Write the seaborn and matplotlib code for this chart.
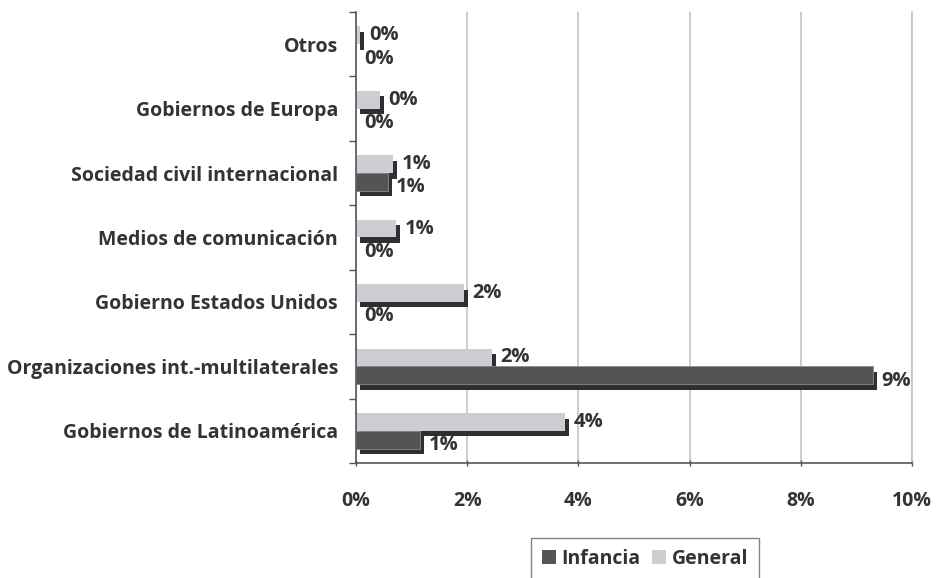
import numpy as np, pandas as pd
import matplotlib
matplotlib.use("Agg")
import matplotlib.pyplot as plt
import matplotlib.patheffects as pe
from matplotlib.patches import Patch
from matplotlib.ticker import FuncFormatter, FixedLocator
import seaborn as sns

# data (percent), categories top to bottom
categories = ["Otros", "Gobiernos de Europa", "Sociedad civil internacional",
              "Medios de comunicación", "Gobierno Estados Unidos",
              "Organizaciones int.-multilaterales", "Gobiernos de Latinoamérica"]
general = [0.08, 0.43, 0.67, 0.72, 1.94, 2.45, 3.76]
infancia = [0.0, 0.0, 0.57, 0.0, 0.0, 9.3, 1.15]
series = ["General", "Infancia"]
xticks = [0, 2, 4, 6, 8, 10]

LIGHT, DARK, SHADOW, TXT, GRID = "#cdced3", "#555355", "#2f2f2f", "#333333", "#c4c4c4"
FS = 14

sns.set_theme(style="white")
plt.rcParams["font.family"] = ["Open Sans", "DejaVu Sans"]
plt.rcParams["font.weight"] = "bold"

df = pd.DataFrame({"cat": categories * 2,
                   "val": general + infancia,
                   "serie": ["General"] * len(general) + ["Infancia"] * len(infancia)})

fig = plt.figure(figsize=(9.4, 5.78), dpi=100)
ax = fig.add_axes([356/940, 1-463/578, (912-356)/940, (463-12)/578])

sns.barplot(data=df, y="cat", x="val", hue="serie", hue_order=series,
            order=categories, palette={"General": LIGHT, "Infancia": DARK},
            orient="h", width=0.55, legend=False, ax=ax, saturation=1)

# dark drop shadow under each bar (offset right/down), labels at bar ends
shadow = [pe.withSimplePatchShadow(offset=(2.9, -4.0), shadow_rgbFace=SHADOW, alpha=1.0)]
for cont, s in zip(ax.containers, series):
    for bar in cont:
        bar.set_linewidth(0)
        if bar.get_width() > 0:
            bar.set_path_effects(shadow)
            if s == "Infancia":
                bar.set_edgecolor("#8c8c8c"); bar.set_linewidth(0.6)
        yc = bar.get_y() + bar.get_height() / 2
        dy = 0 if s == "General" else -4
        ax.annotate(f"{bar.get_width():.0f}%", (bar.get_width(), yc),
                    xytext=(6, dy), textcoords="offset points",
                    ha="left", va="center", fontsize=14.5, fontweight="bold", color=TXT)

ax.set_xlim(0, 10)
ax.set_ylim(len(categories) - 0.5, -0.5)
ax.set_xticks(xticks)
ax.xaxis.set_major_formatter(FuncFormatter(lambda v, p: f"{v:.0f}%"))
ax.set_xlabel(""); ax.set_ylabel("")
ax.grid(axis="x", color=GRID, lw=1.2)
ax.grid(axis="y", visible=False)
ax.set_axisbelow(True)

ax.yaxis.set_minor_locator(FixedLocator(np.arange(-0.5, len(categories), 1)))
ax.tick_params(axis="y", which="major", length=0, pad=13, labelsize=FS, labelcolor=TXT)
ax.tick_params(axis="y", which="minor", left=True, length=5, width=1, color="#555555", direction="out")
ax.tick_params(axis="x", bottom=True, length=5, width=1, color="#555555", direction="inout",
               pad=18, labelsize=FS, labelcolor=TXT)
for t in ax.get_yticklabels() + ax.get_xticklabels():
    t.set_fontweight("bold")

ax.spines["top"].set_visible(False)
ax.spines["right"].set_color(GRID); ax.spines["right"].set_linewidth(1.2)
for sp in ["left", "bottom"]:
    ax.spines[sp].set_color("#555555"); ax.spines[sp].set_linewidth(1.2)

handles = [Patch(facecolor=DARK, edgecolor="none", label="Infancia"),
           Patch(facecolor=LIGHT, edgecolor="none", label="General")]
leg = fig.legend(handles=handles, loc="upper center", bbox_to_anchor=(645/940, 1-538/578),
                 ncol=2, frameon=True, fancybox=False, handlelength=0.7, handleheight=0.7,
                 handletextpad=0.3, columnspacing=0.6, borderpad=0.55, borderaxespad=0,
                 prop={"weight": "bold", "size": FS})
leg.get_frame().set_edgecolor("#666666")
leg.get_frame().set_linewidth(1.0)
for t in leg.get_texts():
    t.set_color(TXT)

fig.savefig("out.png", dpi=100)
